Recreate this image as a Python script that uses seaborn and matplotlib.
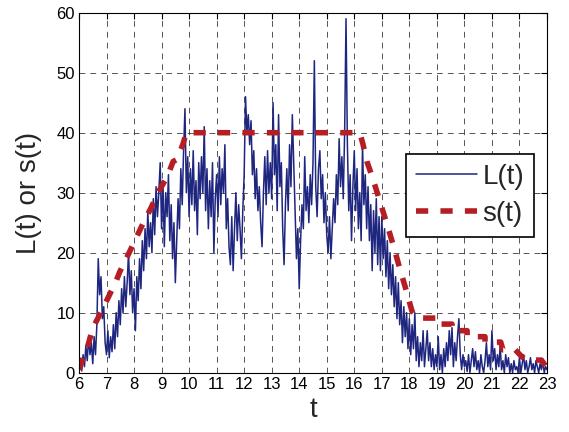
import matplotlib
matplotlib.use("Agg")
import matplotlib.pyplot as plt
import numpy as np
import pandas as pd
import seaborn as sns

# Measured load L(t), sampled every 0.05 from t = 6 to t = 23
t_start, t_step = 6.0, 0.05
load_values = [
    # 6.00 - 6.95
    0.5, 2, 0.3, 3, 1, 4.5, 2, 6, 3, 5, 1.5, 6, 3, 8, 19, 13, 16, 9, 11, 5,
    # 7.00 - 7.95
    3, 7, 2.5, 6, 3.5, 8, 4, 10, 6, 12, 8, 14, 10, 16, 11, 15, 20, 13, 17, 10,
    # 8.00 - 8.95
    14, 7, 16, 12, 19, 14, 22, 17, 24, 19, 27, 21, 25, 20, 29, 23, 31, 26, 30, 35,
    # 9.00 - 9.95
    24, 32, 21, 30, 26, 33, 22, 28, 19, 25, 15, 22, 29, 24, 34, 28, 37, 44, 30, 36,
    # 10.00 - 10.95
    26, 34, 28, 37, 27, 32, 23, 35, 29, 36, 30, 41, 27, 34, 24, 32, 26, 35, 20, 29,
    # 11.00 - 11.95
    33, 26, 36, 28, 34, 30, 38, 24, 29, 21, 18, 26, 17, 24, 30, 22, 28, 24, 19, 27,
    # 12.00 - 12.95
    33, 46, 40, 43, 38, 42, 33, 37, 29, 34, 27, 31, 25, 21, 30, 36, 28, 37, 30, 35,
    # 13.00 - 13.95
    29, 45, 33, 38, 27, 43, 31, 35, 24, 18, 28, 34, 27, 38, 31, 43, 35, 27, 19, 24,
    # 14.00 - 14.95
    14, 22, 28, 24, 36, 27, 31, 25, 33, 28, 35, 52, 31, 26, 34, 37, 29, 33, 25, 30,
    # 15.00 - 15.95
    23, 20, 26, 19, 24, 29, 25, 33, 28, 39, 31, 36, 29, 40, 59, 38, 27, 33, 22, 31,
    # 16.00 - 16.95
    37, 27, 34, 24, 30, 22, 38, 28, 33, 24, 31, 22, 28, 17, 27, 20, 29, 18, 26, 17,
    # 17.00 - 17.95
    26, 19, 24, 16, 22, 14, 20, 13, 18, 11, 16, 9, 15, 8, 12, 5, 11, 6, 10, 4,
    # 18.00 - 18.95
    9, 3, 8, 4, 10, 2, 6, 1, 5, 2, 7, 1, 4, 7, 2, 5, 1, 4, 0.5, 3,
    # 19.00 - 19.95
    1, 6, 0.5, 3, 0, 4, 1, 5, 2, 7, 3, 7.5, 1, 5, 2, 6, 9, 3, 0.5, 3,
    # 20.00 - 20.95
    1, 2, 0.2, 3, 0, 2, 4, 1, 3.5, 0.5, 2, 0, 3, 1, 0, 2, 5, 1, 3, 0.5,
    # 21.00 - 21.95
    7, 2, 4, 0.5, 3, 1, 4.5, 0.5, 2, 0, 3, 1, 2.5, 0, 1.5, 0, 2, 0.5, 1, 0,
    # 22.00 - 23.00
    2.5, 0, 1.5, 3, 0.5, 2, 0, 1, 2.5, 0.5, 1.5, 0, 2, 1, 0, 1.5, 0.5, 2, 0, 1, 0.5,
]
load_t = [round(t_start + i * t_step, 2) for i in range(len(load_values))]

# Supply schedule s(t): ramp up, plateau at 40, then stepped decline
supply_t = [6.0, 6.08, 6.33, 6.5, 6.79, 7.09, 7.36, 7.48, 7.76, 8.05, 8.33,
            8.61, 8.87, 9.21, 9.42, 9.55, 9.77, 9.9, 16.2, 16.31, 16.46,
            16.67, 16.88, 17.07, 17.27, 17.45, 17.65, 17.85, 18.1, 18.3,
            18.95, 18.95, 19.55, 19.55, 20.1, 20.1, 20.75, 20.75, 21.32,
            21.4, 21.85, 22.1, 22.3, 22.8, 23.0]
supply_values = [0.5, 1.6, 4.6, 7.4, 10, 12.8, 15.4, 16.8, 19.4, 22.2, 24.9,
                 27.4, 30, 32.7, 35.2, 35.5, 38, 40, 40, 38.2, 35.2,
                 32.4, 29.3, 26.5, 23.5, 20.7, 17.4, 14.3, 10.2, 9.1,
                 9.1, 8.1, 8.1, 7, 7, 6, 6, 5.1, 5.1,
                 3.8, 3.8, 2.6, 2.1, 2.1, 0.8]

x_ticks = list(range(6, 24))
y_ticks = [0, 10, 20, 30, 40, 50, 60]

load_df = pd.DataFrame({"t": load_t, "value": load_values})
supply_df = pd.DataFrame({"t": supply_t, "value": supply_values})

sns.set_style("white")
plt.rcParams["font.family"] = ["Liberation Sans", "DejaVu Sans"]

blue = "#1f2680"
red = "#b51e24"

fig = plt.figure(figsize=(5.69, 4.32), dpi=100)
ax = fig.add_axes([0.1388, 0.1373, 0.8225, 0.8333])

sns.lineplot(data=load_df, x="t", y="value", ax=ax, color=blue, linewidth=1.1,
             estimator=None, sort=False, label="L(t)")
sns.lineplot(data=supply_df, x="t", y="value", ax=ax, color=red, linewidth=4,
             estimator=None, sort=False, label="s(t)",
             linestyle=(0, (2.2, 2.2)))

ax.set_xlim(6, 23)
ax.set_ylim(0, 60)
ax.set_xticks(x_ticks)
ax.set_yticks(y_ticks)
ax.tick_params(direction="in", top=True, right=True, length=4, width=0.8,
               labelsize=12, colors="black", pad=3)
ax.grid(True, color="#3a3a3a", linewidth=0.6, linestyle=(0, (7, 6)))
for sp in ax.spines.values():
    sp.set_visible(True)
    sp.set_color("black")
    sp.set_linewidth(0.8)

ax.set_xlabel("t", fontsize=20, labelpad=4)
ax.set_ylabel("L(t) or s(t)", fontsize=20, labelpad=10)

leg = ax.legend(loc="upper right", bbox_to_anchor=(0.972, 0.607),
                borderaxespad=0, fontsize=20, handlelength=2.2,
                handletextpad=0.2, labelspacing=0.4, borderpad=0.35,
                fancybox=False, framealpha=1)
leg.get_frame().set_edgecolor("black")
leg.get_frame().set_linewidth(1.2)

fig.savefig("out.png", dpi=100)
